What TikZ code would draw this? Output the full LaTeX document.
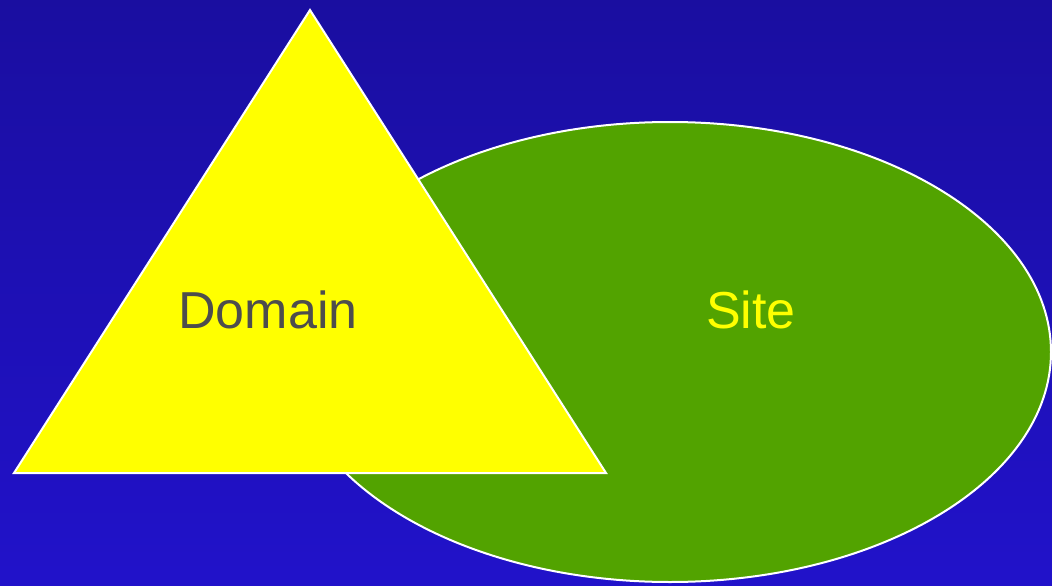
\documentclass[tikz,border=0pt]{standalone}
\usepackage{fontspec}
\setmainfont{Liberation Sans}
\definecolor{bgtop}{RGB}{26,14,160}
\definecolor{bgbot}{RGB}{33,18,202}
\definecolor{sitegreen}{RGB}{82,163,0}
\definecolor{domyellow}{RGB}{255,255,0}
\definecolor{domtext}{RGB}{77,77,77}
\tikzset{
  shapeline/.style={draw=white, line width=2pt, line join=miter},
  lbl/.style={font=\fontsize{52}{60}\selectfont, inner sep=0pt}
}
\begin{document}
\begin{tikzpicture}[x=1pt,y=-1pt]
\useasboundingbox (0,0) rectangle (1052,586);
\shade[top color=bgtop, bottom color=bgbot] (0,0) rectangle (1052,586);
\draw[shapeline, fill=sitegreen] (670,352) ellipse [x radius=381, y radius=230];
\draw[shapeline, fill=domyellow] (310,10) -- (606,473) -- (14,473) -- cycle;
\node[lbl, text=domtext] (domain) at (268,310) {Domain};
\node[lbl, text=domyellow] (site) at (751,310) {Site};
\end{tikzpicture}
\end{document}
